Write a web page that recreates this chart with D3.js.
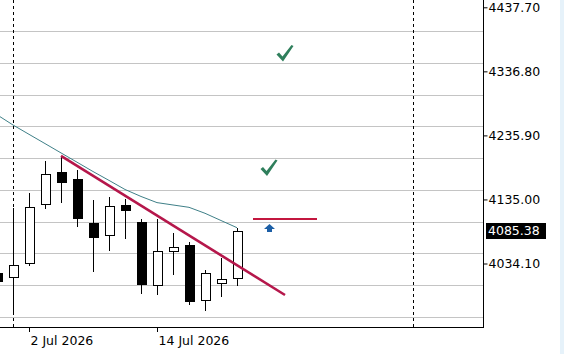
<!DOCTYPE html>
<html>
<head>
<meta charset="utf-8">
<script src="https://cdn.jsdelivr.net/npm/d3@7/dist/d3.min.js"></script>
<style>
  html, body { margin: 0; padding: 0; background: #ffffff; }
  svg { display: block; }
  text { font-family: "DejaVu Sans", sans-serif; }
</style>
</head>
<body>
<svg id="chart" width="564" height="354"></svg>
<script>
// ---------------- DATA ----------------
const candleDates = ["2026-06-30","2026-07-01","2026-07-02","2026-07-03","2026-07-06","2026-07-07",
  "2026-07-08","2026-07-09","2026-07-10","2026-07-13","2026-07-14","2026-07-15","2026-07-16",
  "2026-07-17","2026-07-20","2026-07-21"];
const opens  = [4018.7,4012.8,4034.4,4127.4,4177.8,4166.7,4097.4,4078.5,4126.3,4099.5,4000.7,4053.3,4062.8,3976.1,4002.9,4010.8];
const highs  = [4027.0,4121.1,4145.6,4195.6,4203.5,4181.4,4134.1,4138.4,4135.7,4104.2,4104.2,4081.7,4068.0,4023.9,4042.3,4089.6];
const lows   = [3998.7,3956.1,4030.6,4120.0,4128.9,4092.1,4021.2,4054.3,4072.7,3986.1,3984.0,4016.0,3969.2,3959.8,3981.8,3999.1];
const closes = [4006.5,4031.0,4123.6,4174.6,4163.0,4106.3,4076.3,4124.2,4118.9,4001.8,4053.3,4059.6,3975.5,4018.7,4009.2,4085.38];

const maDates  = ["2026-06-29","2026-06-30","2026-07-01","2026-07-02","2026-07-03","2026-07-06","2026-07-07",
  "2026-07-08","2026-07-09","2026-07-10","2026-07-13","2026-07-14","2026-07-15","2026-07-16",
  "2026-07-17","2026-07-20","2026-07-21"];
const maValues = [4283.9,4268.4,4252.3,4237.6,4223.0,4208.3,4193.7,4179.0,4165.0,4150.7,4139.7,4130.0,4126.3,4122.6,4113.2,4101.8,4090.5];

const priceTickLabels = [4437.70, 4336.80, 4235.90, 4135.00, 4034.10];
const gridLevels = [4450, 4400, 4350, 4300, 4250, 4200, 4150, 4100, 4050, 4000, 3950];
const dateTickDates  = ["2026-07-02", "2026-07-14"];
const dateTickLabels = ["2 Jul 2026", "14 Jul 2026"];
const separatorDates = ["2026-07-01", "2026-08-05"];

const trendDates  = ["2026-07-06", "2026-07-24"];
const trendPrices = [4203.5, 3984.5];
const levelDates  = ["2026-07-22", "2026-07-28"];
const levelPrice  = 4104.2;
const checkDates  = ["2026-07-24", "2026-07-23"];
const checkPrices = [4365.7, 4185.3];
const arrowDates  = ["2026-07-23"];
const arrowPrices = [4090.0];
const currentPrice = 4085.38;

// ---------------- LAYOUT ----------------
const W = 564, H = 354;
const plotRight = 483, plotBottom = 327;
const barStep = 16;
const svg = d3.select("#chart");

// trading-day domain (weekdays)
const parse = d3.utcParse("%Y-%m-%d");
const fmt = d3.utcFormat("%Y-%m-%d");
const days = d3.utcDay.range(parse("2026-06-29"), parse("2026-09-01"))
  .filter(d => d.getUTCDay() !== 0 && d.getUTCDay() !== 6).map(fmt);
const firstX = -19;
const x = d3.scalePoint().domain(days).range([firstX, firstX + barStep * (days.length - 1)]);
const y = d3.scaleLinear().domain([4034.10, 4437.70]).range([263.5, 7.3]);

// right strip
svg.append("rect").attr("x", 560).attr("y", 0).attr("width", 4).attr("height", H).attr("fill", "#e6f2fa");

// clip
svg.append("defs").append("clipPath").attr("id", "plotclip")
  .append("rect").attr("x", 0).attr("y", 0).attr("width", plotRight).attr("height", plotBottom);
const plot = svg.append("g").attr("clip-path", "url(#plotclip)");

// grid
plot.append("g").selectAll("line").data(gridLevels).join("line")
  .attr("x1", 0).attr("x2", plotRight)
  .attr("y1", d => Math.round(y(d)) + 0.5).attr("y2", d => Math.round(y(d)) + 0.5)
  .attr("stroke", "#c4c4c4").attr("stroke-width", 1);

// separators
plot.append("g").selectAll("line").data(separatorDates).join("line")
  .attr("x1", d => Math.floor(x(d)) + 0.5).attr("x2", d => Math.floor(x(d)) + 0.5)
  .attr("y1", 0).attr("y2", plotBottom)
  .attr("stroke", "#000").attr("stroke-width", 1).attr("stroke-dasharray", "3,3");

// candles
const candles = candleDates.map((d, i) => ({d, o: opens[i], h: highs[i], l: lows[i], c: closes[i]}));
const cg = plot.append("g");
cg.selectAll("line.wick").data(candles).join("line").attr("class", "wick")
  .attr("x1", c => Math.floor(x(c.d)) + 0.5).attr("x2", c => Math.floor(x(c.d)) + 0.5)
  .attr("y1", c => Math.round(y(c.h))).attr("y2", c => Math.round(y(c.l)))
  .attr("stroke", "#000").attr("stroke-width", 1);
cg.selectAll("rect.body").data(candles).join("rect").attr("class", "body")
  .attr("x", c => Math.floor(x(c.d)) - 3.5)
  .attr("width", 9)
  .attr("y", c => Math.round(y(Math.max(c.o, c.c))) + 0.5)
  .attr("height", c => Math.max(1, Math.round(y(Math.min(c.o, c.c))) - Math.round(y(Math.max(c.o, c.c)))))
  .attr("fill", c => c.c >= c.o ? "#ffffff" : "#000000")
  .attr("stroke", "#000").attr("stroke-width", 1);

// moving average
const line = d3.line().x(d => x(d[0])).y(d => y(d[1]));
plot.append("path").datum(maDates.map((d, i) => [d, maValues[i]]))
  .attr("d", line).attr("fill", "none").attr("stroke", "#3f8088").attr("stroke-width", 1);

// trend line
plot.append("path").datum(trendDates.map((d, i) => [d, trendPrices[i]]))
  .attr("d", line).attr("fill", "none").attr("stroke", "#b5174b").attr("stroke-width", 2.6)
  .attr("stroke-linecap", "butt");

// level line
plot.append("line")
  .attr("x1", x(levelDates[0])).attr("x2", x(levelDates[1]))
  .attr("y1", y(levelPrice)).attr("y2", y(levelPrice))
  .attr("stroke", "#c3163f").attr("stroke-width", 2);

// check marks
const checkPath = "M -8.5,1.5 L -6,-0.5 L -2.5,3.5 L 6.5,-8 L 8.5,-7 L -2,8.5 Z";
plot.append("g").selectAll("path").data(checkDates.map((d, i) => [d, checkPrices[i]])).join("path")
  .attr("transform", d => `translate(${x(d[0])},${y(d[1])})`)
  .attr("d", checkPath).attr("fill", "#2f7f5c");

// arrow
const arrowPath = "M 0,-4 L 5.5,1 L 2.5,1 L 2.5,4 L -2.5,4 L -2.5,1 L -5.5,1 Z";
plot.append("g").selectAll("path").data(arrowDates.map((d, i) => [d, arrowPrices[i]])).join("path")
  .attr("transform", d => `translate(${x(d[0]) + 0.5},${y(d[1])})`)
  .attr("d", arrowPath).attr("fill", "#1c5fa6");

// axes lines
svg.append("line").attr("x1", plotRight + 0.5).attr("x2", plotRight + 0.5).attr("y1", 0).attr("y2", plotBottom + 1)
  .attr("stroke", "#000");
svg.append("line").attr("x1", 0).attr("x2", plotRight + 1).attr("y1", plotBottom + 0.5).attr("y2", plotBottom + 0.5)
  .attr("stroke", "#000");

// right price axis
const yAxis = d3.axisRight(y).tickValues(priceTickLabels).tickSize(4).tickPadding(1)
  .tickFormat(d3.format(".2f"));
const ya = svg.append("g").attr("transform", `translate(${plotRight + 0.5},0)`).call(yAxis);
ya.select(".domain").remove();
ya.selectAll(".tick line").attr("stroke", "#000");
ya.selectAll(".tick text").attr("font-family", "DejaVu Sans, sans-serif").attr("font-size", "12.5px").attr("fill", "#000");

// current price label
const cy = y(currentPrice);
svg.append("rect").attr("x", 486).attr("y", Math.round(cy) - 8).attr("width", 60).attr("height", 16).attr("fill", "#000");
svg.append("text").attr("x", 488).attr("y", cy).attr("dy", "0.35em")
  .attr("font-size", "12.5px").attr("fill", "#fff").text(d3.format(".2f")(currentPrice));

// bottom date axis
const xg = svg.append("g");
xg.selectAll("line").data(dateTickDates).join("line")
  .attr("x1", d => Math.floor(x(d)) + 0.5).attr("x2", d => Math.floor(x(d)) + 0.5)
  .attr("y1", plotBottom).attr("y2", plotBottom + 5).attr("stroke", "#000");
xg.selectAll("text").data(dateTickDates).join("text")
  .attr("x", d => Math.floor(x(d)) + 1.5).attr("y", 345)
  .attr("font-size", "12.5px").attr("fill", "#000")
  .text((d, i) => dateTickLabels[i]);
</script>
</body>
</html>
